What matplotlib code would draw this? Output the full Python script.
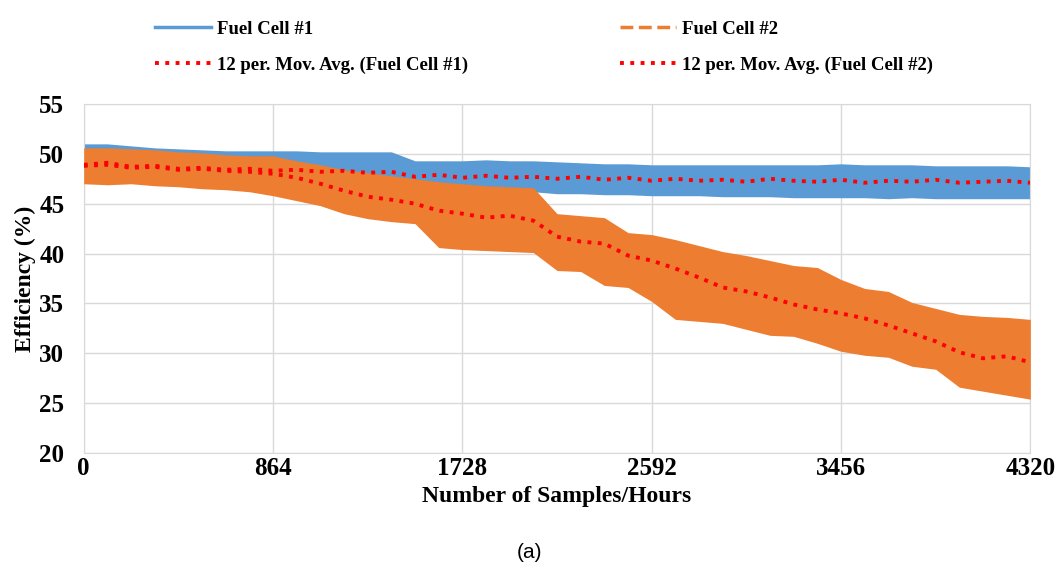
import numpy as np
import matplotlib
matplotlib.use('Agg')
import matplotlib.pyplot as plt
from matplotlib.lines import Line2D

hours = np.arange(0, 4321, 108)

fc1_upper = [51.0, 51.0, 50.8, 50.6, 50.5, 50.4, 50.3, 50.3, 50.3, 50.3,
             50.2, 50.2, 50.2, 50.2, 49.3, 49.3, 49.3, 49.4, 49.3, 49.3,
             49.2, 49.1, 49.0, 49.0, 48.9, 48.9, 48.9, 48.9, 48.9, 48.9,
             48.9, 48.9, 49.0, 48.9, 48.9, 48.9, 48.8, 48.8, 48.8, 48.8, 48.7]
fc1_lower = [47.6, 47.6, 47.5, 47.5, 47.5, 47.4, 47.4, 47.4, 47.4, 47.2,
             47.0, 46.9, 46.9, 46.8, 46.6, 46.5, 46.4, 46.3, 46.2, 46.2,
             46.0, 46.0, 45.9, 45.9, 45.8, 45.8, 45.8, 45.7, 45.7, 45.7,
             45.6, 45.6, 45.6, 45.6, 45.5, 45.6, 45.5, 45.5, 45.5, 45.5, 45.5]
fc1_ma = [48.9, 49.1, 48.7, 48.8, 48.5, 48.6, 48.4, 48.5, 48.3, 48.4,
          48.2, 48.3, 48.1, 48.2, 47.7, 47.9, 47.6, 47.8, 47.6, 47.7,
          47.5, 47.7, 47.4, 47.6, 47.3, 47.5, 47.3, 47.4, 47.2, 47.5,
          47.3, 47.2, 47.4, 47.1, 47.3, 47.2, 47.4, 47.1, 47.2, 47.3, 47.1]

fc2_upper = [50.6, 50.6, 50.5, 50.4, 50.2, 50.1, 49.9, 49.8, 49.8, 49.3,
             48.9, 48.4, 48.1, 47.8, 47.5, 47.2, 47.0, 46.8, 46.7, 46.6,
             44.0, 43.8, 43.6, 42.1, 41.9, 41.4, 40.8, 40.2, 39.8, 39.3,
             38.8, 38.6, 37.4, 36.5, 36.2, 35.1, 34.5, 33.9, 33.7, 33.6, 33.4]
fc2_lower = [47.0, 46.9, 47.0, 46.8, 46.7, 46.5, 46.4, 46.2, 45.8, 45.3,
             44.8, 44.0, 43.5, 43.2, 43.0, 40.6, 40.4, 40.3, 40.2, 40.1,
             38.3, 38.2, 36.8, 36.6, 35.2, 33.4, 33.2, 33.0, 32.4, 31.8,
             31.7, 31.0, 30.2, 29.8, 29.6, 28.7, 28.4, 26.6, 26.2, 25.8, 25.4]
fc2_ma = [48.8, 48.9, 48.6, 48.7, 48.4, 48.5, 48.3, 48.2, 48.0, 47.6,
          47.0, 46.3, 45.7, 45.4, 45.0, 44.3, 44.0, 43.6, 43.8, 43.3,
          41.7, 41.2, 41.0, 39.8, 39.3, 38.5, 37.6, 36.6, 36.2, 35.6,
          34.9, 34.4, 34.0, 33.5, 32.8, 32.0, 31.2, 30.1, 29.5, 29.7, 29.1]

xticks = [0, 864, 1728, 2592, 3456, 4320]
yticks = [20, 25, 30, 35, 40, 45, 50, 55]

blue = '#5B9BD5'
orange = '#ED7D31'
serif = ['Liberation Serif', 'DejaVu Serif']

fig = plt.figure(figsize=(10.6, 5.76), dpi=100)
ax = fig.add_axes([0.079, 0.2135, 0.893, 0.606])

ax.fill_between(hours, fc1_lower, fc1_upper, color=blue, lw=0, zorder=2)
ax.fill_between(hours, fc2_lower, fc2_upper, color=orange, lw=0, zorder=3)
ax.plot(hours, fc1_ma, color='red', ls=':', lw=2.8, zorder=4)
ax.plot(hours, fc2_ma, color='red', ls=':', lw=2.8, zorder=5)

ax.set_xlim(0, 4320)
ax.set_ylim(20, 55)
ax.set_xticks(xticks)
ax.set_yticks(yticks)
ax.grid(True, color='#D9D9D9', lw=1, zorder=0)
ax.set_axisbelow(True)
for s in ax.spines.values():
    s.set_color('#D9D9D9')
ax.tick_params(length=0)
ax.tick_params(axis='x', pad=3)
ax.tick_params(axis='y', pad=14)
for lab in ax.get_xticklabels() + ax.get_yticklabels():
    lab.set_fontfamily(serif)
    lab.set_fontweight('bold')
    lab.set_fontsize(18)

ax.set_xlabel('Number of Samples/Hours', fontfamily=serif, fontweight='bold',
              fontsize=17, labelpad=4)
ax.set_ylabel('Efficiency (%)', fontfamily=serif, fontweight='bold',
              fontsize=17, labelpad=2)

handles = [Line2D([], [], color=blue, lw=2.5),
           Line2D([], [], color='red', ls=':', lw=2.8),
           Line2D([], [], color=orange, lw=2.5, ls='--'),
           Line2D([], [], color='red', ls=':', lw=2.8)]
labels = ['Fuel Cell #1', '12 per. Mov. Avg. (Fuel Cell #1)',
          'Fuel Cell #2', '12 per. Mov. Avg. (Fuel Cell #2)']
fig.legend(handles, labels, ncol=2, loc='center', bbox_to_anchor=(0.513, 0.918),
           frameon=False, prop={'family': serif, 'weight': 'bold', 'size': 13.5},
           handlelength=3.0, handletextpad=0.3, columnspacing=8.1,
           labelspacing=1.0)

fig.text(0.5, 0.04, '(a)', ha='center', va='center', fontsize=15,
         fontfamily=['Liberation Sans', 'DejaVu Sans'])

fig.savefig('out.png', dpi=100)
